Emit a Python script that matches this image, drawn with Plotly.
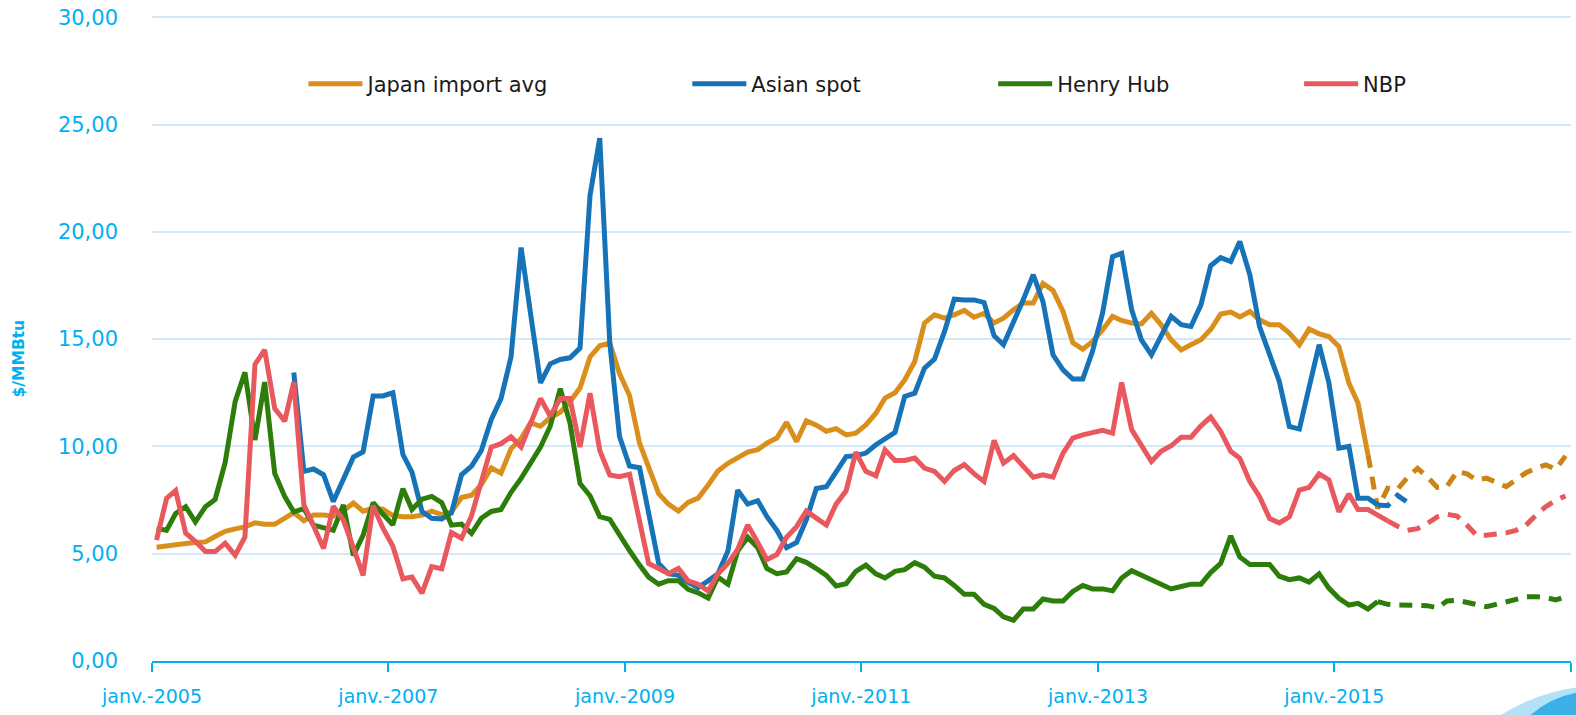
import pandas as pd
import plotly.graph_objects as go

# ---------------- data (monthly, Jan 2005 - Dec 2016, $/MMBtu) ----------------
months = pd.date_range("2005-01-01", periods=144, freq="MS") + pd.Timedelta(days=14)

japan_import_avg = [
    5.30, 5.38, 5.42, 5.48, 5.52, 5.55, 5.80, 6.04, 6.16, 6.25, 6.44, 6.37,
    6.37, 6.68, 6.92, 6.54, 6.80, 6.80, 6.75, 7.00, 7.36, 6.98, 7.12, 7.08,
    6.78, 6.72, 6.72, 6.80, 6.98, 6.82, 6.95, 7.62, 7.73, 8.22, 9.00, 8.75,
    9.89, 10.37, 11.10, 10.94, 11.34, 11.59, 12.07, 12.72, 14.17, 14.69, 14.82, 13.40,
    12.37, 10.15, 9.09, 7.80, 7.31, 6.99, 7.39, 7.59, 8.20, 8.85, 9.21, 9.47,
    9.74, 9.85, 10.15, 10.39, 11.12, 10.23, 11.20, 10.99, 10.71, 10.83, 10.54, 10.62,
    11.00, 11.55, 12.25, 12.50, 13.10, 13.96, 15.75, 16.13, 15.98, 16.13, 16.34, 16.02,
    16.20, 15.75, 15.98, 16.37, 16.68, 16.68, 17.60, 17.27, 16.29, 14.84, 14.53, 14.89,
    15.43, 16.06, 15.87, 15.75, 15.71, 16.21, 15.67, 14.97, 14.50, 14.74, 14.97, 15.45,
    16.17, 16.26, 16.04, 16.29, 15.90, 15.67, 15.67, 15.28, 14.74, 15.47, 15.25, 15.12,
    14.66, 12.95, 12.02, 9.60, 7.11, 8.05, 8.00, 8.56, 8.98, 8.59, 8.09, 8.13,
    8.83, 8.72, 8.44, 8.52, 8.31, 8.13, 8.44, 8.78, 8.98, 9.14, 8.94, 9.56,
]

asian_spot = [None] * 14 + [
    13.45, 8.84, 8.95, 8.68, 7.43, 8.45, 9.50, 9.75, 12.35, 12.35,
    12.50, 9.62, 8.80, 6.97, 6.65, 6.62, 6.90, 8.68, 9.08, 9.80, 11.26, 12.23,
    14.17, 19.27, 16.10, 12.96, 13.85, 14.05, 14.13, 14.58, 21.70, 24.37, 14.82, 10.46,
    9.09, 9.01, 6.90, 4.55, 4.07, 3.99, 3.66, 3.42, 3.74, 4.07, 5.12, 7.96,
    7.31, 7.47, 6.74, 6.09, 5.28, 5.53, 6.58, 8.04, 8.12, 8.85, 9.53, 9.57,
    9.69, 10.08, 10.34, 10.65, 12.33, 12.48, 13.65, 14.07, 15.36, 16.86, 16.83, 16.83,
    16.71, 15.16, 14.74, 15.75, 16.83, 18.00, 16.75, 14.27, 13.57, 13.14, 13.14, 14.43,
    16.21, 18.85, 19.00, 16.37, 14.97, 14.27, 15.12, 16.06, 15.67, 15.59, 16.60, 18.42,
    18.80, 18.62, 19.55, 18.00, 15.59, 14.35, 13.03, 10.93, 10.81, 12.75, 14.74, 12.98,
    9.92, 10.00, 7.59, 7.59, 7.27, 7.24, 7.72, 7.40,
] + [None] * 16

henry_hub = [
    6.17, 6.09, 6.87, 7.19, 6.48, 7.19, 7.53, 9.25, 12.10, 13.45, 10.30, 13.00,
    8.75, 7.66, 6.95, 7.10, 6.33, 6.22, 6.09, 7.27, 4.92, 5.86, 7.38, 6.85,
    6.35, 8.03, 7.06, 7.54, 7.67, 7.38, 6.33, 6.38, 5.95, 6.65, 6.97, 7.06,
    7.86, 8.51, 9.24, 9.97, 10.94, 12.69, 11.10, 8.27, 7.70, 6.73, 6.60, 5.84,
    5.15, 4.47, 3.91, 3.58, 3.74, 3.74, 3.34, 3.18, 2.93, 3.91, 3.58, 5.12,
    5.77, 5.28, 4.31, 4.07, 4.15, 4.77, 4.60, 4.31, 3.99, 3.50, 3.60, 4.18,
    4.47, 4.06, 3.87, 4.18, 4.26, 4.58, 4.37, 3.95, 3.87, 3.52, 3.11, 3.11,
    2.64, 2.45, 2.06, 1.90, 2.42, 2.42, 2.89, 2.80, 2.80, 3.24, 3.52, 3.36,
    3.36, 3.27, 3.87, 4.21, 3.99, 3.79, 3.55, 3.36, 3.47, 3.58, 3.58, 4.12,
    4.55, 5.83, 4.85, 4.50, 4.50, 4.50, 3.95, 3.79, 3.87, 3.68, 4.06, 3.40,
    2.92, 2.61, 2.69, 2.42, 2.77, 2.64, 2.61, 2.61, 2.61, 2.58, 2.48, 2.80,
    2.83, 2.72, 2.61, 2.53, 2.64, 2.77, 2.92, 2.99, 3.00, 2.96, 2.85, 3.00,
]

nbp = [
    5.63, 7.58, 7.94, 5.96, 5.58, 5.10, 5.10, 5.49, 4.93, 5.78, 13.82, 14.50,
    11.77, 11.18, 13.00, 7.28, 6.30, 5.24, 7.21, 6.57, 5.28, 3.99, 7.23, 6.20,
    5.35, 3.83, 3.91, 3.16, 4.40, 4.30, 5.99, 5.72, 6.77, 8.25, 9.97, 10.13,
    10.45, 9.97, 11.10, 12.23, 11.42, 12.23, 12.23, 9.97, 12.48, 9.81, 8.67, 8.59,
    8.70, 6.64, 4.54, 4.31, 4.07, 4.31, 3.74, 3.58, 3.26, 4.07, 4.55, 5.20,
    6.34, 5.53, 4.72, 4.96, 5.77, 6.26, 6.99, 6.66, 6.34, 7.31, 7.93, 9.73,
    8.84, 8.63, 9.84, 9.35, 9.35, 9.46, 8.99, 8.84, 8.37, 8.88, 9.15, 8.73,
    8.37, 10.28, 9.22, 9.57, 9.07, 8.57, 8.68, 8.57, 9.69, 10.39, 10.54, 10.65,
    10.75, 10.62, 12.98, 10.78, 10.03, 9.30, 9.77, 10.03, 10.43, 10.43, 10.96, 11.37,
    10.70, 9.77, 9.45, 8.36, 7.66, 6.64, 6.44, 6.72, 7.97, 8.09, 8.72, 8.44,
    6.95, 7.78, 7.06, 7.06, 6.80, 6.53, 6.28, 6.09, 6.17, 6.41, 6.72, 6.84,
    6.75, 6.33, 5.86, 5.86, 5.91, 5.97, 6.09, 6.33, 6.80, 7.19, 7.50, 7.69,
]

# index of the first month of the forward (dashed) part of each series
forward_start = {"Japan import avg": 123, "Asian spot": 124, "Henry Hub": 124, "NBP": 125}

series_names = ["Japan import avg", "Asian spot", "Henry Hub", "NBP"]
series_values = [japan_import_avg, asian_spot, henry_hub, nbp]

x_tick_dates = ["2005-01-01", "2007-01-01", "2009-01-01", "2011-01-01",
                "2013-01-01", "2015-01-01", "2017-01-01"]
x_tick_text = ["janv.-2005", "janv.-2007", "janv.-2009", "janv.-2011",
               "janv.-2013", "janv.-2015", ""]
y_tick_values = [0, 5, 10, 15, 20, 25, 30]

# ---------------- styling ----------------
colors = {"Japan import avg": "#DA8F1D", "Asian spot": "#1673B8",
          "Henry Hub": "#2D7D0A", "NBP": "#E9585D"}
dash_colors = {"Japan import avg": "#CC8414", "Asian spot": "#1673B8",
               "Henry Hub": "#2D7D0A", "NBP": "#E9585D"}
AXIS_BLUE = "#00B0F0"
LW = 5
FONT = "DejaVu Sans"

# figure fills the whole page (the default 8px body margin is removed below)
W, H = 1576, 715
Y_TOP = 30.06                      # tiny headroom so the 30 gridline is kept
PB = 661.5                         # page y of value 0
UNIT = (PB - 17.0) / 30.0          # px per $/MMBtu (30 sits at page y 17)
PL, PR = 151.5, 1571.0             # plot area in page pixels (x)
PT = PB - Y_TOP * UNIT
L, T = PL, PT
R, B = W - PR, H - PB
PW, PH = PR - PL, PB - PT


def px_x(p):  # page pixel -> paper x
    return (p - PL) / PW


def px_y(p):  # page pixel -> paper y
    return (PB - p) / PH


legend_left_px = {"Japan import avg": 303, "Asian spot": 687,
                  "Henry Hub": 993, "NBP": 1299}
legend_keys = ["legend", "legend2", "legend3", "legend4"]

fig = go.Figure()
for name, vals, lk in zip(series_names, series_values, legend_keys):
    k = forward_start[name]
    fig.add_trace(go.Scatter(
        x=months[:k + 1], y=vals[:k + 1], mode="lines", name=name,
        line=dict(color=colors[name], width=LW),
        legend=lk, showlegend=True, connectgaps=False,
        hoverinfo="skip"))
    fig.add_trace(go.Scatter(
        x=months[k:], y=vals[k:], mode="lines", name=name + " (forward)",
        line=dict(color=dash_colors[name], width=LW, dash="13px,9px"),
        showlegend=False, connectgaps=False, hoverinfo="skip"))

layout_legends = {}
for name, lk in zip(series_names, legend_keys):
    layout_legends[lk] = dict(
        x=px_x(legend_left_px[name]), y=px_y(84), xanchor="left", yanchor="middle",
        orientation="h", bgcolor="rgba(0,0,0,0)", borderwidth=0,
        font=dict(family=FONT, size=21, color="#1a1a1a"),
        itemwidth=54, itemclick=False, itemdoubleclick=False)

fig.update_layout(
    width=W, height=H,
    margin=dict(l=L, r=R, t=T, b=B, pad=0, autoexpand=False),
    paper_bgcolor="white", plot_bgcolor="white",
    separators=", ",
    hovermode=False,
    **layout_legends,
)

fig.update_xaxes(
    type="date", range=["2005-01-01", "2017-01-01"],
    tickmode="array", tickvals=x_tick_dates, ticktext=x_tick_text,
    ticks="outside", ticklen=9, tickwidth=2, tickcolor=AXIS_BLUE,
    showline=True, linecolor=AXIS_BLUE, linewidth=2,
    showgrid=False, zeroline=False,
    tickfont=dict(family=FONT, size=19, color=AXIS_BLUE),
    ticklabelstandoff=8,
)
fig.update_yaxes(
    range=[0, Y_TOP], tickmode="array", tickvals=y_tick_values,
    tickformat=".2f",
    showgrid=True, gridcolor="#D4E8F8", gridwidth=2,
    zeroline=False, showline=False, ticks="",
    tickfont=dict(family=FONT, size=21, color=AXIS_BLUE),
    ticklabelstandoff=33,
)

fig.add_annotation(
    text="<b>$/MMBtu</b>", xref="paper", yref="paper",
    x=px_x(18), y=px_y(359), textangle=-90, showarrow=False,
    font=dict(family=FONT, size=15.5, color=AXIS_BLUE),
    xanchor="center", yanchor="middle")

# decorative corner swoosh (bottom right)
fig.add_shape(type="path", xref="paper", yref="paper",
              path=f"M {px_x(1500)},{px_y(716)} Q {px_x(1535)},{px_y(694)} {px_x(1577)},{px_y(688)} "
                   f"L {px_x(1577)},{px_y(716)} Z",
              fillcolor="#B3E1F6", line=dict(width=0), layer="above")
fig.add_shape(type="path", xref="paper", yref="paper",
              path=f"M {px_x(1530)},{px_y(716)} Q {px_x(1550)},{px_y(698)} {px_x(1577)},{px_y(693)} "
                   f"L {px_x(1577)},{px_y(716)} Z",
              fillcolor="#3BB0E8", line=dict(width=0), layer="above")

fig.write_html(
    "out.html",
    config={"displayModeBar": False, "staticPlot": True},
    post_script="document.body.style.margin='0px';document.body.style.overflow='hidden';",
)
